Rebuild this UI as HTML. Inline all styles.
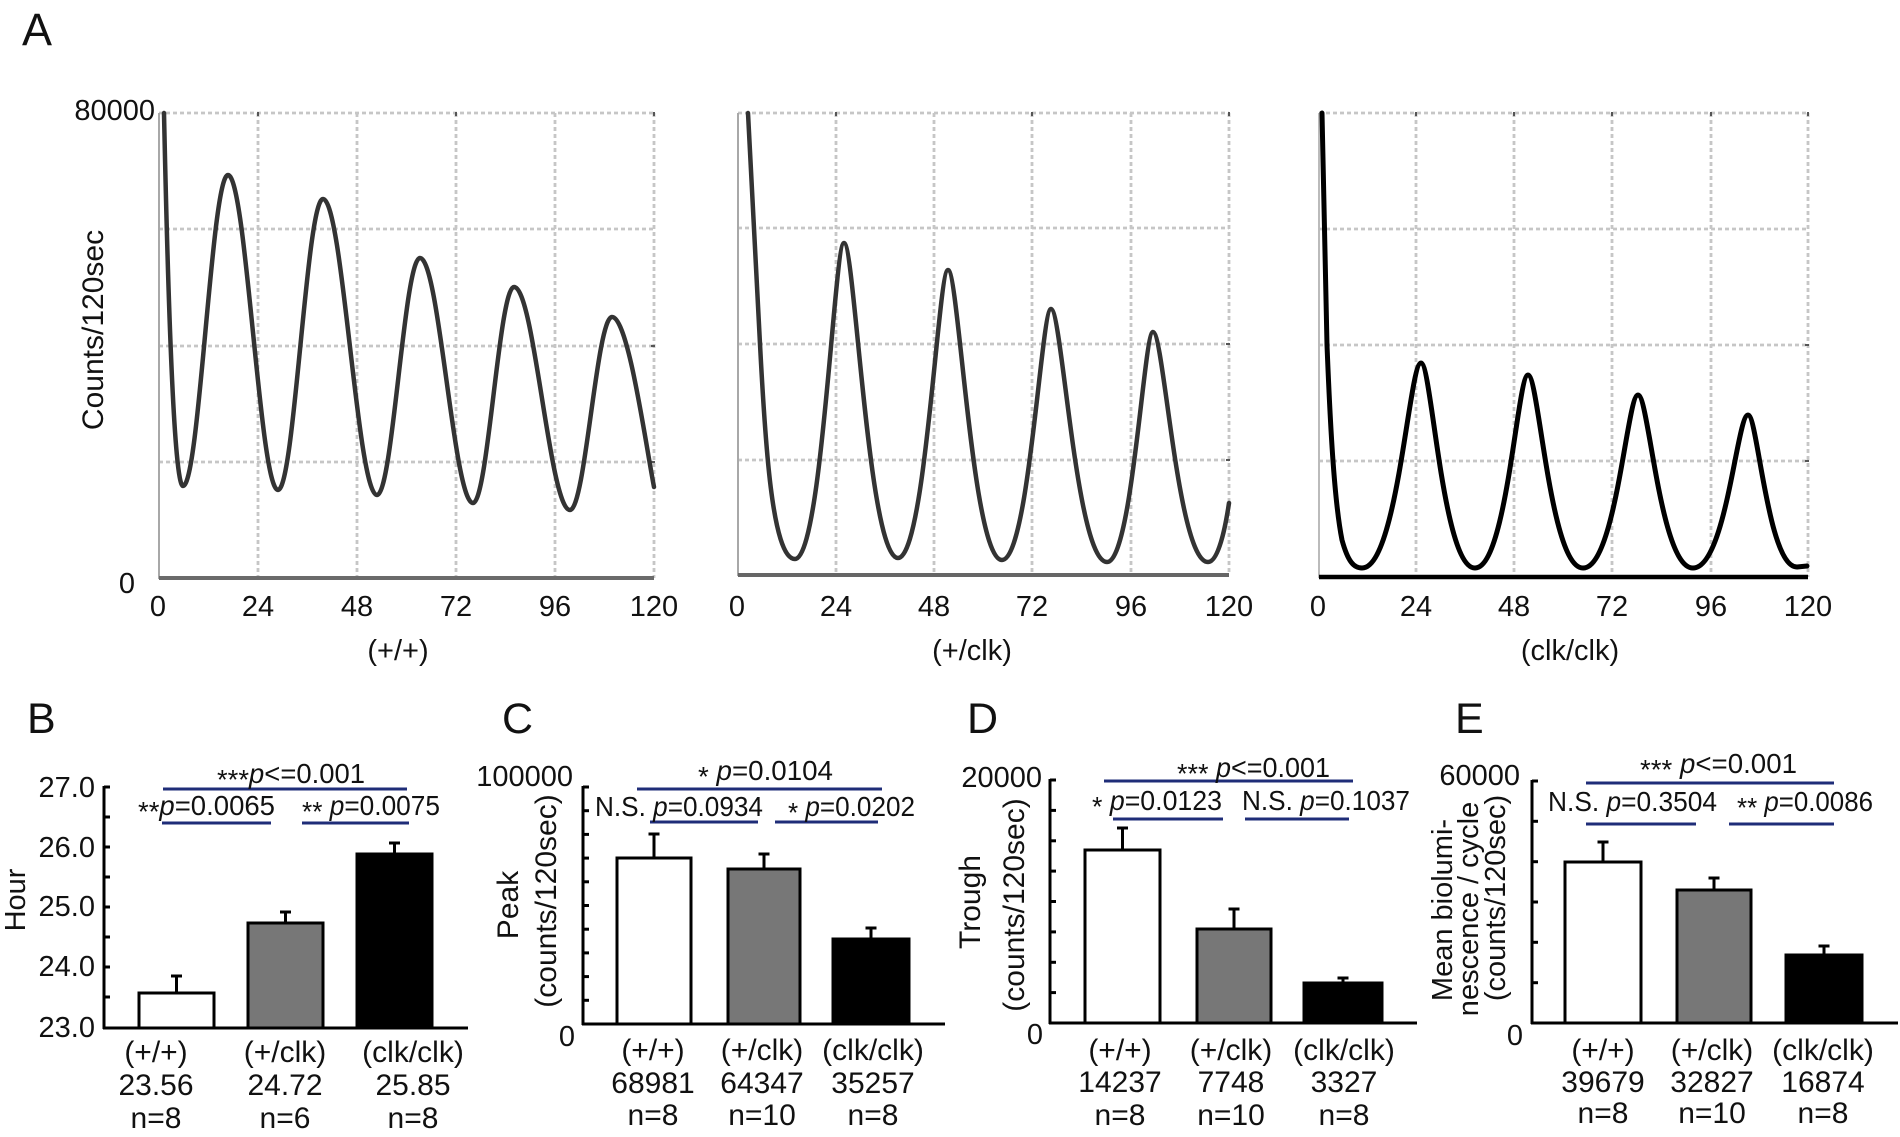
<!DOCTYPE html>
<html>
<head>
<meta charset="utf-8">
<style>
  html, body { margin: 0; padding: 0; background: #ffffff; }
  svg { display: block; }
  text { font-family: "Liberation Sans", Arial, sans-serif; fill: #111; }
</style>
</head>
<body>
<svg width="1900" height="1137" viewBox="0 0 1900 1137" xmlns="http://www.w3.org/2000/svg">
  <rect x="0" y="0" width="1900" height="1137" fill="#ffffff"/>

  <!-- ================= PANEL A ================= -->
  <text x="22" y="45" font-size="45">A</text>

  <!-- grid panel 1 -->
  <g stroke="#c6c6c6" stroke-width="2.8" stroke-dasharray="4 3" fill="none">
    <line x1="159" y1="113" x2="654" y2="113"/>
    <line x1="159" y1="229" x2="654" y2="229"/>
    <line x1="159" y1="346" x2="654" y2="346"/>
    <line x1="159" y1="462" x2="654" y2="462"/>
    <line x1="258" y1="113" x2="258" y2="578"/>
    <line x1="357" y1="113" x2="357" y2="578"/>
    <line x1="456" y1="113" x2="456" y2="578"/>
    <line x1="555" y1="113" x2="555" y2="578"/>
    <line x1="654" y1="113" x2="654" y2="578"/>
  </g>
  <!-- grid panel 2 -->
  <g stroke="#c6c6c6" stroke-width="2.8" stroke-dasharray="4 3" fill="none">
    <line x1="738" y1="113" x2="1229" y2="113"/>
    <line x1="738" y1="228" x2="1229" y2="228"/>
    <line x1="738" y1="344" x2="1229" y2="344"/>
    <line x1="738" y1="460" x2="1229" y2="460"/>
    <line x1="836" y1="113" x2="836" y2="575"/>
    <line x1="934" y1="113" x2="934" y2="575"/>
    <line x1="1032" y1="113" x2="1032" y2="575"/>
    <line x1="1131" y1="113" x2="1131" y2="575"/>
    <line x1="1229" y1="113" x2="1229" y2="575"/>
  </g>
  <!-- grid panel 3 -->
  <g stroke="#c6c6c6" stroke-width="2.8" stroke-dasharray="4 3" fill="none">
    <line x1="1319" y1="113" x2="1808" y2="113"/>
    <line x1="1319" y1="229" x2="1808" y2="229"/>
    <line x1="1319" y1="345" x2="1808" y2="345"/>
    <line x1="1319" y1="461" x2="1808" y2="461"/>
    <line x1="1416" y1="113" x2="1416" y2="577"/>
    <line x1="1514" y1="113" x2="1514" y2="577"/>
    <line x1="1612" y1="113" x2="1612" y2="577"/>
    <line x1="1711" y1="113" x2="1711" y2="577"/>
    <line x1="1808" y1="113" x2="1808" y2="577"/>
  </g>

  <!-- small dark ticks on top / right frame -->
  <g stroke="#555" stroke-width="2">
    <line x1="258" y1="112" x2="258" y2="116"/><line x1="456" y1="112" x2="456" y2="116"/><line x1="654" y1="112" x2="654" y2="116"/>
    <line x1="651" y1="346" x2="655" y2="346"/><line x1="651" y1="462" x2="655" y2="462"/>
    <line x1="836" y1="112" x2="836" y2="116"/><line x1="1032" y1="112" x2="1032" y2="116"/><line x1="1229" y1="112" x2="1229" y2="116"/>
    <line x1="1226" y1="344" x2="1230" y2="344"/><line x1="1226" y1="460" x2="1230" y2="460"/>
    <line x1="1416" y1="112" x2="1416" y2="116"/><line x1="1514" y1="112" x2="1514" y2="116"/><line x1="1612" y1="112" x2="1612" y2="116"/><line x1="1711" y1="112" x2="1711" y2="116"/><line x1="1808" y1="112" x2="1808" y2="116"/>
    <line x1="1805" y1="345" x2="1809" y2="345"/><line x1="1805" y1="461" x2="1809" y2="461"/>
  </g>

  <!-- axes panel A -->
  <line x1="159" y1="113" x2="159" y2="579" stroke="#a8a8a8" stroke-width="2"/>
  <line x1="159" y1="578" x2="654" y2="578" stroke="#6b6b6b" stroke-width="4"/>
  <line x1="738" y1="113" x2="738" y2="576" stroke="#a8a8a8" stroke-width="2"/>
  <line x1="738" y1="575" x2="1229" y2="575" stroke="#666" stroke-width="4"/>
  <line x1="1319" y1="113" x2="1319" y2="578" stroke="#bbbbbb" stroke-width="2"/>
  <line x1="1319" y1="577" x2="1808" y2="577" stroke="#000" stroke-width="4.5"/>

  <!-- curves -->
  <path fill="none" stroke="#333" stroke-width="4.5" stroke-linejoin="round" stroke-linecap="round"
    d="M164,113 C168,300 174,486 183,486
       C199.4,486 211.6,175 228,175
       C246.2,175 259.8,490 278,490
       C294.4,490 306.6,199 323,199
       C342.7,199 357.3,495 377,495
       C392.7,495 404.3,258 420,258
       C439.3,258 453.7,503 473,503
       C487.9,503 499.1,287 514,287
       C534.4,287 549.6,510 570,510
       C585.3,510 596.7,317 612,317
       C628,317 645,440 654,487"/>
  <path fill="none" stroke="#333" stroke-width="4.5" stroke-linejoin="round" stroke-linecap="round"
    d="M748,113 L760,344
       C765,440 772,559 795,559
       C822,559 834.2,243 844,243
       C854.8,243 868.3,558 898,558
       C925.5,558 938,270 948,270
       C958.8,270 972.3,560 1002,560
       C1029,560 1041.2,309 1051,309
       C1062.2,309 1076.2,562 1107,562
       C1132.3,562 1143.8,332 1153,332
       C1164,332 1177.7,562 1208,562
       C1218,562 1225,530 1229,503"/>
  <path fill="none" stroke="#000" stroke-width="5" stroke-linejoin="round" stroke-linecap="round"
    d="M1322,113 L1327,345
       C1330,420 1334,500 1342,540
       C1348,562 1354,568 1362,568
       C1397.4,568 1409.2,363 1421,363
       C1431.8,363 1442.6,568 1475,568
       C1506.8,568 1517.4,375 1528,375
       C1539,375 1550,568 1583,568
       C1616,568 1627,395 1638,395
       C1649,395 1660,568 1693,568
       C1726,568 1737,415 1748,415
       C1757.8,415 1767.6,567 1797,567
       L1807,566"/>

  <!-- A labels -->
  <text x="155" y="120" font-size="29" text-anchor="end">80000</text>
  <text x="135" y="593" font-size="29" text-anchor="end">0</text>
  <text transform="translate(103,330) rotate(-90)" font-size="30" text-anchor="middle">Counts/120sec</text>

  <g font-size="29" text-anchor="middle">
    <text x="158" y="616">0</text><text x="258" y="616">24</text><text x="357" y="616">48</text>
    <text x="456" y="616">72</text><text x="555" y="616">96</text><text x="654" y="616">120</text>
    <text x="737" y="616">0</text><text x="836" y="616">24</text><text x="934" y="616">48</text>
    <text x="1032" y="616">72</text><text x="1131" y="616">96</text><text x="1229" y="616">120</text>
    <text x="1318" y="616">0</text><text x="1416" y="616">24</text><text x="1514" y="616">48</text>
    <text x="1612" y="616">72</text><text x="1711" y="616">96</text><text x="1808" y="616">120</text>
  </g>
  <g font-size="29" text-anchor="middle">
    <text x="398" y="660">(+/+)</text>
    <text x="972" y="660">(+/clk)</text>
    <text x="1570" y="660">(clk/clk)</text>
  </g>

  <!-- ================= PANEL B ================= -->
  <text x="27" y="733" font-size="43">B</text>
  <g font-size="29" text-anchor="end">
    <text x="95" y="797">27.0</text>
    <text x="95" y="857">26.0</text>
    <text x="95" y="916">25.0</text>
    <text x="95" y="976">24.0</text>
    <text x="95" y="1037">23.0</text>
  </g>
  <text transform="translate(25,900) rotate(-90)" font-size="29" text-anchor="middle">Hour</text>
  <g stroke="#000" stroke-width="3">
    <line x1="104" y1="786" x2="104" y2="1029"/>
    <line x1="103" y1="1028" x2="468" y2="1028"/>
    <line x1="104" y1="787" x2="110" y2="787"/><line x1="104" y1="817" x2="110" y2="817"/>
    <line x1="104" y1="847" x2="110" y2="847"/><line x1="104" y1="877" x2="110" y2="877"/>
    <line x1="104" y1="907" x2="110" y2="907"/><line x1="104" y1="937" x2="110" y2="937"/>
    <line x1="104" y1="967" x2="110" y2="967"/><line x1="104" y1="997" x2="110" y2="997"/>
  </g>
  <g stroke="#000" stroke-width="3">
    <line x1="176.5" y1="993" x2="176.5" y2="976"/><line x1="171" y1="976" x2="182" y2="976"/>
    <line x1="285.5" y1="923" x2="285.5" y2="912"/><line x1="280" y1="912" x2="291" y2="912"/>
    <line x1="394.5" y1="854" x2="394.5" y2="843"/><line x1="389" y1="843" x2="400" y2="843"/>
    <rect x="139" y="993" width="75" height="35" fill="#fff"/>
    <rect x="248" y="923" width="75" height="105" fill="#777"/>
    <rect x="357" y="854" width="75" height="174" fill="#000"/>
  </g>
  <g stroke="#1f2d78" stroke-width="3">
    <line x1="163" y1="789" x2="407" y2="789"/>
    <line x1="162" y1="823" x2="271" y2="823"/>
    <line x1="302" y1="823" x2="409" y2="823"/>
  </g>
  <g font-size="28">
    <text x="217" y="783" textLength="148" lengthAdjust="spacingAndGlyphs"><tspan dy="6">***</tspan><tspan dy="-6" font-style="italic">p</tspan>&lt;=0.001</text>
    <text x="138" y="815" textLength="137" lengthAdjust="spacingAndGlyphs"><tspan dy="6">**</tspan><tspan dy="-6" font-style="italic">p</tspan>=0.0065</text>
    <text x="302" y="815" textLength="138" lengthAdjust="spacingAndGlyphs"><tspan dy="6">** </tspan><tspan dy="-6" font-style="italic">p</tspan>=0.0075</text>
  </g>
  <g font-size="30" text-anchor="middle">
    <text x="156" y="1062">(+/+)</text><text x="156" y="1095">23.56</text><text x="156" y="1128">n=8</text>
    <text x="285" y="1062">(+/clk)</text><text x="285" y="1095">24.72</text><text x="285" y="1128">n=6</text>
    <text x="413" y="1062">(clk/clk)</text><text x="413" y="1095">25.85</text><text x="413" y="1128">n=8</text>
  </g>

  <!-- ================= PANEL C ================= -->
  <text x="502" y="733" font-size="43">C</text>
  <text x="573" y="786" font-size="29" text-anchor="end">100000</text>
  <text x="575" y="1046" font-size="29" text-anchor="end">0</text>
  <text transform="translate(518,905) rotate(-90)" font-size="30" text-anchor="middle">Peak</text>
  <text transform="translate(556,901) rotate(-90)" font-size="30" text-anchor="middle">(counts/120sec)</text>
  <g stroke="#000" stroke-width="3">
    <line x1="583" y1="786" x2="583" y2="1025"/>
    <line x1="582" y1="1024" x2="945" y2="1024"/>
    <line x1="583" y1="787" x2="589" y2="787"/><line x1="583" y1="810.7" x2="589" y2="810.7"/>
    <line x1="583" y1="834.4" x2="589" y2="834.4"/><line x1="583" y1="858.1" x2="589" y2="858.1"/>
    <line x1="583" y1="881.8" x2="589" y2="881.8"/><line x1="583" y1="905.5" x2="589" y2="905.5"/>
    <line x1="583" y1="929.2" x2="589" y2="929.2"/><line x1="583" y1="952.9" x2="589" y2="952.9"/>
    <line x1="583" y1="976.6" x2="589" y2="976.6"/><line x1="583" y1="1000.3" x2="589" y2="1000.3"/>
  </g>
  <g stroke="#000" stroke-width="3">
    <line x1="654" y1="858" x2="654" y2="834"/><line x1="648.5" y1="834" x2="659.5" y2="834"/>
    <line x1="764" y1="869" x2="764" y2="854"/><line x1="758.5" y1="854" x2="769.5" y2="854"/>
    <line x1="871" y1="939" x2="871" y2="928"/><line x1="865.5" y1="928" x2="876.5" y2="928"/>
    <rect x="617" y="858" width="74" height="166" fill="#fff"/>
    <rect x="728" y="869" width="72" height="155" fill="#777"/>
    <rect x="833" y="939" width="76" height="85" fill="#000"/>
  </g>
  <g stroke="#1f2d78" stroke-width="3">
    <line x1="637" y1="789" x2="882" y2="789"/>
    <line x1="650" y1="822" x2="758" y2="822"/>
    <line x1="775" y1="822" x2="878" y2="822"/>
  </g>
  <g font-size="28">
    <text x="698" y="780" textLength="135" lengthAdjust="spacingAndGlyphs"><tspan dy="6">*  </tspan><tspan dy="-6" font-style="italic">p</tspan>=0.0104</text>
    <text x="595" y="816" textLength="168" lengthAdjust="spacingAndGlyphs">N.S. <tspan font-style="italic">p</tspan>=0.0934</text>
    <text x="788" y="816" textLength="127" lengthAdjust="spacingAndGlyphs"><tspan dy="6">* </tspan><tspan dy="-6" font-style="italic">p</tspan>=0.0202</text>
  </g>
  <g font-size="30" text-anchor="middle">
    <text x="653" y="1060">(+/+)</text><text x="653" y="1093">68981</text><text x="653" y="1125">n=8</text>
    <text x="762" y="1060">(+/clk)</text><text x="762" y="1093">64347</text><text x="762" y="1125">n=10</text>
    <text x="873" y="1060">(clk/clk)</text><text x="873" y="1093">35257</text><text x="873" y="1125">n=8</text>
  </g>

  <!-- ================= PANEL D ================= -->
  <text x="967" y="733" font-size="43">D</text>
  <text x="1042" y="787" font-size="29" text-anchor="end">20000</text>
  <text x="1043" y="1044" font-size="29" text-anchor="end">0</text>
  <text transform="translate(980,902) rotate(-90)" font-size="30" text-anchor="middle">Trough</text>
  <text transform="translate(1024,905) rotate(-90)" font-size="30" text-anchor="middle">(counts/120sec)</text>
  <g stroke="#000" stroke-width="3">
    <line x1="1050" y1="779" x2="1050" y2="1024"/>
    <line x1="1049" y1="1023" x2="1417" y2="1023"/>
    <line x1="1050" y1="780" x2="1056" y2="780"/><line x1="1050" y1="810.4" x2="1056" y2="810.4"/>
    <line x1="1050" y1="840.8" x2="1056" y2="840.8"/><line x1="1050" y1="871.1" x2="1056" y2="871.1"/>
    <line x1="1050" y1="901.5" x2="1056" y2="901.5"/><line x1="1050" y1="931.9" x2="1056" y2="931.9"/>
    <line x1="1050" y1="962.3" x2="1056" y2="962.3"/><line x1="1050" y1="992.6" x2="1056" y2="992.6"/>
  </g>
  <g stroke="#000" stroke-width="3">
    <line x1="1122.5" y1="850" x2="1122.5" y2="828"/><line x1="1117" y1="828" x2="1128" y2="828"/>
    <line x1="1234" y1="929" x2="1234" y2="909"/><line x1="1228.5" y1="909" x2="1239.5" y2="909"/>
    <line x1="1343" y1="983" x2="1343" y2="978"/><line x1="1337.5" y1="978" x2="1348.5" y2="978"/>
    <rect x="1085" y="850" width="75" height="173" fill="#fff"/>
    <rect x="1197" y="929" width="74" height="94" fill="#777"/>
    <rect x="1304" y="983" width="78" height="40" fill="#000"/>
  </g>
  <g stroke="#1f2d78" stroke-width="3">
    <line x1="1104" y1="781" x2="1353" y2="781"/>
    <line x1="1113" y1="819" x2="1223" y2="819"/>
    <line x1="1245" y1="819" x2="1349" y2="819"/>
  </g>
  <g font-size="28">
    <text x="1177" y="777" textLength="153" lengthAdjust="spacingAndGlyphs"><tspan dy="6">*** </tspan><tspan dy="-6" font-style="italic">p</tspan>&lt;=0.001</text>
    <text x="1092" y="810" textLength="130" lengthAdjust="spacingAndGlyphs"><tspan dy="6">* </tspan><tspan dy="-6" font-style="italic">p</tspan>=0.0123</text>
    <text x="1242" y="810" textLength="168" lengthAdjust="spacingAndGlyphs">N.S. <tspan font-style="italic">p</tspan>=0.1037</text>
  </g>
  <g font-size="30" text-anchor="middle">
    <text x="1120" y="1060">(+/+)</text><text x="1120" y="1092">14237</text><text x="1120" y="1125">n=8</text>
    <text x="1231" y="1060">(+/clk)</text><text x="1231" y="1092">7748</text><text x="1231" y="1125">n=10</text>
    <text x="1344" y="1060">(clk/clk)</text><text x="1344" y="1092">3327</text><text x="1344" y="1125">n=8</text>
  </g>

  <!-- ================= PANEL E ================= -->
  <text x="1455" y="733" font-size="43">E</text>
  <text x="1520" y="785" font-size="29" text-anchor="end">60000</text>
  <text x="1523" y="1045" font-size="29" text-anchor="end">0</text>
  <text transform="translate(1452,910) rotate(-90)" font-size="29" text-anchor="middle">Mean biolumi-</text>
  <text transform="translate(1478,909) rotate(-90)" font-size="29" text-anchor="middle">nescence / cycle</text>
  <text transform="translate(1505,898) rotate(-90)" font-size="29" text-anchor="middle">(counts/120sec)</text>
  <g stroke="#000" stroke-width="3">
    <line x1="1532" y1="780" x2="1532" y2="1024"/>
    <line x1="1531" y1="1023" x2="1898" y2="1023"/>
    <line x1="1532" y1="781" x2="1538" y2="781"/><line x1="1532" y1="821.3" x2="1538" y2="821.3"/>
    <line x1="1532" y1="861.7" x2="1538" y2="861.7"/><line x1="1532" y1="902" x2="1538" y2="902"/>
    <line x1="1532" y1="942.3" x2="1538" y2="942.3"/><line x1="1532" y1="982.7" x2="1538" y2="982.7"/>
  </g>
  <g stroke="#000" stroke-width="3">
    <line x1="1603" y1="862" x2="1603" y2="842"/><line x1="1597.5" y1="842" x2="1608.5" y2="842"/>
    <line x1="1714" y1="890" x2="1714" y2="878"/><line x1="1708.5" y1="878" x2="1719.5" y2="878"/>
    <line x1="1824" y1="955" x2="1824" y2="946"/><line x1="1818.5" y1="946" x2="1829.5" y2="946"/>
    <rect x="1565" y="862" width="76" height="161" fill="#fff"/>
    <rect x="1677" y="890" width="74" height="133" fill="#777"/>
    <rect x="1786" y="955" width="76" height="68" fill="#000"/>
  </g>
  <g stroke="#1f2d78" stroke-width="3">
    <line x1="1586" y1="783" x2="1834" y2="783"/>
    <line x1="1586" y1="824" x2="1696" y2="824"/>
    <line x1="1729" y1="824" x2="1834" y2="824"/>
  </g>
  <g font-size="28">
    <text x="1640" y="773" textLength="157" lengthAdjust="spacingAndGlyphs"><tspan dy="6">***  </tspan><tspan dy="-6" font-style="italic">p</tspan>&lt;=0.001</text>
    <text x="1548" y="811" textLength="169" lengthAdjust="spacingAndGlyphs">N.S. <tspan font-style="italic">p</tspan>=0.3504</text>
    <text x="1737" y="811" textLength="136" lengthAdjust="spacingAndGlyphs"><tspan dy="6">** </tspan><tspan dy="-6" font-style="italic">p</tspan>=0.0086</text>
  </g>
  <g font-size="30" text-anchor="middle">
    <text x="1603" y="1060">(+/+)</text><text x="1603" y="1092">39679</text><text x="1603" y="1123">n=8</text>
    <text x="1712" y="1060">(+/clk)</text><text x="1712" y="1092">32827</text><text x="1712" y="1123">n=10</text>
    <text x="1823" y="1060">(clk/clk)</text><text x="1823" y="1092">16874</text><text x="1823" y="1123">n=8</text>
  </g>
</svg>
</body>
</html>
